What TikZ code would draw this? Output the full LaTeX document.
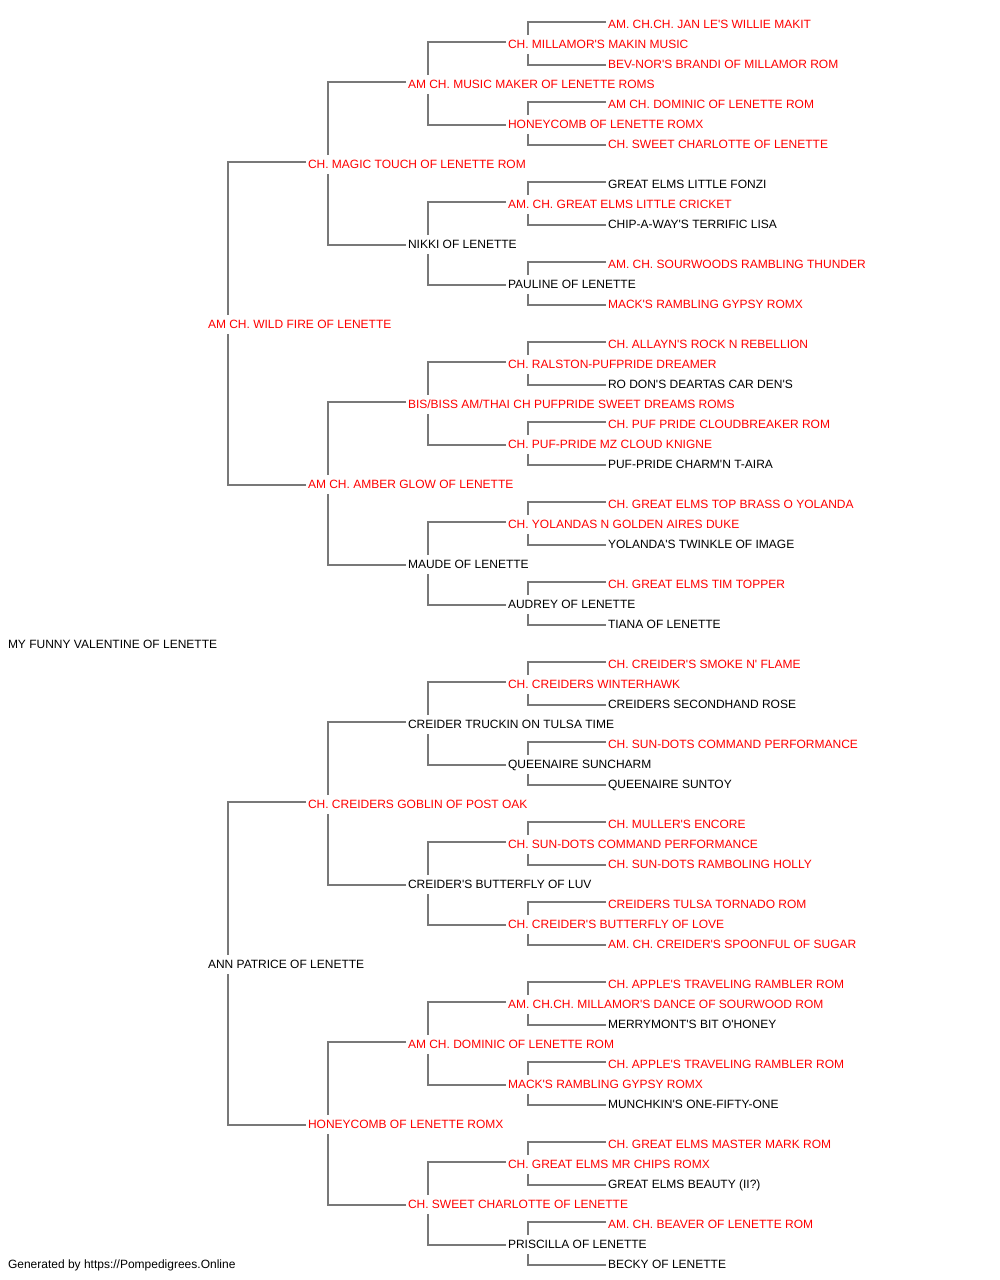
\documentclass[tikz,border=0pt]{standalone}
\usepackage{fontspec}
\setmainfont{Liberation Sans}[Ligatures=TeXOff]
\definecolor{pr}{HTML}{FF0000}
\definecolor{pk}{HTML}{000000}
\definecolor{ln}{HTML}{787878}
\tikzset{
  lab/.style={anchor=base west,inner sep=0pt,outer sep=0pt,font=\fontsize{12bp}{14bp}\selectfont},
  rd/.style={lab,text=pr},
  bk/.style={lab,text=pk},
  conn/.style={draw=ln,line width=1.2bp}
}
\begin{document}
\begin{tikzpicture}[x=1bp,y=-1bp]
\fill[white] (0,0) rectangle (1000,1280);
\useasboundingbox (0,0) rectangle (1000,1280);
% generation 0
\node[bk] (g0-0) at (8,648) {MY FUNNY VALENTINE OF LENETTE};
% generation 1
\node[rd] (g1-0) at (208,328) {AM CH. WILD FIRE OF LENETTE};
\node[bk] (g1-1) at (208,968) {ANN PATRICE OF LENETTE};
% generation 2
\node[rd] (g2-0) at (308,168) {CH. MAGIC TOUCH OF LENETTE ROM};
\node[rd] (g2-1) at (308,488) {AM CH. AMBER GLOW OF LENETTE};
\node[rd] (g2-2) at (308,808) {CH. CREIDERS GOBLIN OF POST OAK};
\node[rd] (g2-3) at (308,1128) {HONEYCOMB OF LENETTE ROMX};
% generation 3
\node[rd] (g3-0) at (408,88) {AM CH. MUSIC MAKER OF LENETTE ROMS};
\node[bk] (g3-1) at (408,248) {NIKKI OF LENETTE};
\node[rd] (g3-2) at (408,408) {BIS/BISS AM/THAI CH PUFPRIDE SWEET DREAMS ROMS};
\node[bk] (g3-3) at (408,568) {MAUDE OF LENETTE};
\node[bk] (g3-4) at (408,728) {CREIDER TRUCKIN ON TULSA TIME};
\node[bk] (g3-5) at (408,888) {CREIDER'S BUTTERFLY OF LUV};
\node[rd] (g3-6) at (408,1048) {AM CH. DOMINIC OF LENETTE ROM};
\node[rd] (g3-7) at (408,1208) {CH. SWEET CHARLOTTE OF LENETTE};
% generation 4
\node[rd] (g4-0) at (508,48) {CH. MILLAMOR'S MAKIN MUSIC};
\node[rd] (g4-1) at (508,128) {HONEYCOMB OF LENETTE ROMX};
\node[rd] (g4-2) at (508,208) {AM. CH. GREAT ELMS LITTLE CRICKET};
\node[bk] (g4-3) at (508,288) {PAULINE OF LENETTE};
\node[rd] (g4-4) at (508,368) {CH. RALSTON-PUFPRIDE DREAMER};
\node[rd] (g4-5) at (508,448) {CH. PUF-PRIDE MZ CLOUD KNIGNE};
\node[rd] (g4-6) at (508,528) {CH. YOLANDAS N GOLDEN AIRES DUKE};
\node[bk] (g4-7) at (508,608) {AUDREY OF LENETTE};
\node[rd] (g4-8) at (508,688) {CH. CREIDERS WINTERHAWK};
\node[bk] (g4-9) at (508,768) {QUEENAIRE SUNCHARM};
\node[rd] (g4-10) at (508,848) {CH. SUN-DOTS COMMAND PERFORMANCE};
\node[rd] (g4-11) at (508,928) {CH. CREIDER'S BUTTERFLY OF LOVE};
\node[rd] (g4-12) at (508,1008) {AM. CH.CH. MILLAMOR'S DANCE OF SOURWOOD ROM};
\node[rd] (g4-13) at (508,1088) {MACK'S RAMBLING GYPSY ROMX};
\node[rd] (g4-14) at (508,1168) {CH. GREAT ELMS MR CHIPS ROMX};
\node[bk] (g4-15) at (508,1248) {PRISCILLA OF LENETTE};
% generation 5
\node[rd] (g5-0) at (608,28) {AM. CH.CH. JAN LE'S WILLIE MAKIT};
\node[rd] (g5-1) at (608,68) {BEV-NOR'S BRANDI OF MILLAMOR ROM};
\node[rd] (g5-2) at (608,108) {AM CH. DOMINIC OF LENETTE ROM};
\node[rd] (g5-3) at (608,148) {CH. SWEET CHARLOTTE OF LENETTE};
\node[bk] (g5-4) at (608,188) {GREAT ELMS LITTLE FONZI};
\node[bk] (g5-5) at (608,228) {CHIP-A-WAY'S TERRIFIC LISA};
\node[rd] (g5-6) at (608,268) {AM. CH. SOURWOODS RAMBLING THUNDER};
\node[rd] (g5-7) at (608,308) {MACK'S RAMBLING GYPSY ROMX};
\node[rd] (g5-8) at (608,348) {CH. ALLAYN'S ROCK N REBELLION};
\node[bk] (g5-9) at (608,388) {RO DON'S DEARTAS CAR DEN'S};
\node[rd] (g5-10) at (608,428) {CH. PUF PRIDE CLOUDBREAKER ROM};
\node[bk] (g5-11) at (608,468) {PUF-PRIDE CHARM'N T-AIRA};
\node[rd] (g5-12) at (608,508) {CH. GREAT ELMS TOP BRASS O YOLANDA};
\node[bk] (g5-13) at (608,548) {YOLANDA'S TWINKLE OF IMAGE};
\node[rd] (g5-14) at (608,588) {CH. GREAT ELMS TIM TOPPER};
\node[bk] (g5-15) at (608,628) {TIANA OF LENETTE};
\node[rd] (g5-16) at (608,668) {CH. CREIDER'S SMOKE N' FLAME};
\node[bk] (g5-17) at (608,708) {CREIDERS SECONDHAND ROSE};
\node[rd] (g5-18) at (608,748) {CH. SUN-DOTS COMMAND PERFORMANCE};
\node[bk] (g5-19) at (608,788) {QUEENAIRE SUNTOY};
\node[rd] (g5-20) at (608,828) {CH. MULLER'S ENCORE};
\node[rd] (g5-21) at (608,868) {CH. SUN-DOTS RAMBOLING HOLLY};
\node[rd] (g5-22) at (608,908) {CREIDERS TULSA TORNADO ROM};
\node[rd] (g5-23) at (608,948) {AM. CH. CREIDER'S SPOONFUL OF SUGAR};
\node[rd] (g5-24) at (608,988) {CH. APPLE'S TRAVELING RAMBLER ROM};
\node[bk] (g5-25) at (608,1028) {MERRYMONT'S BIT O'HONEY};
\node[rd] (g5-26) at (608,1068) {CH. APPLE'S TRAVELING RAMBLER ROM};
\node[bk] (g5-27) at (608,1108) {MUNCHKIN'S ONE-FIFTY-ONE};
\node[rd] (g5-28) at (608,1148) {CH. GREAT ELMS MASTER MARK ROM};
\node[bk] (g5-29) at (608,1188) {GREAT ELMS BEAUTY (II?)};
\node[rd] (g5-30) at (608,1228) {AM. CH. BEAVER OF LENETTE ROM};
\node[bk] (g5-31) at (608,1268) {BECKY OF LENETTE};
% footer
\node[bk] (foot) at (8,1268) {Generated by https://Pompedigrees.Online};
% connectors
\foreach \g/\m in {1/1,2/3,3/7,4/15}{
  \foreach \k in {0,...,\m}{
    \pgfmathtruncatemacro\c{\g+1}
    \pgfmathtruncatemacro\u{2*\k}
    \pgfmathtruncatemacro\l{2*\k+1}
    \draw[conn] ([xshift=-2bp,yshift=6bp]g\c-\u.base west) -| ([xshift=20bp,yshift=13bp]g\g-\k.base west);
    \draw[conn] ([xshift=-2bp,yshift=3bp]g\c-\l.base west) -| ([xshift=20bp,yshift=-6bp]g\g-\k.base west);
  }
}
\end{tikzpicture}
\end{document}
